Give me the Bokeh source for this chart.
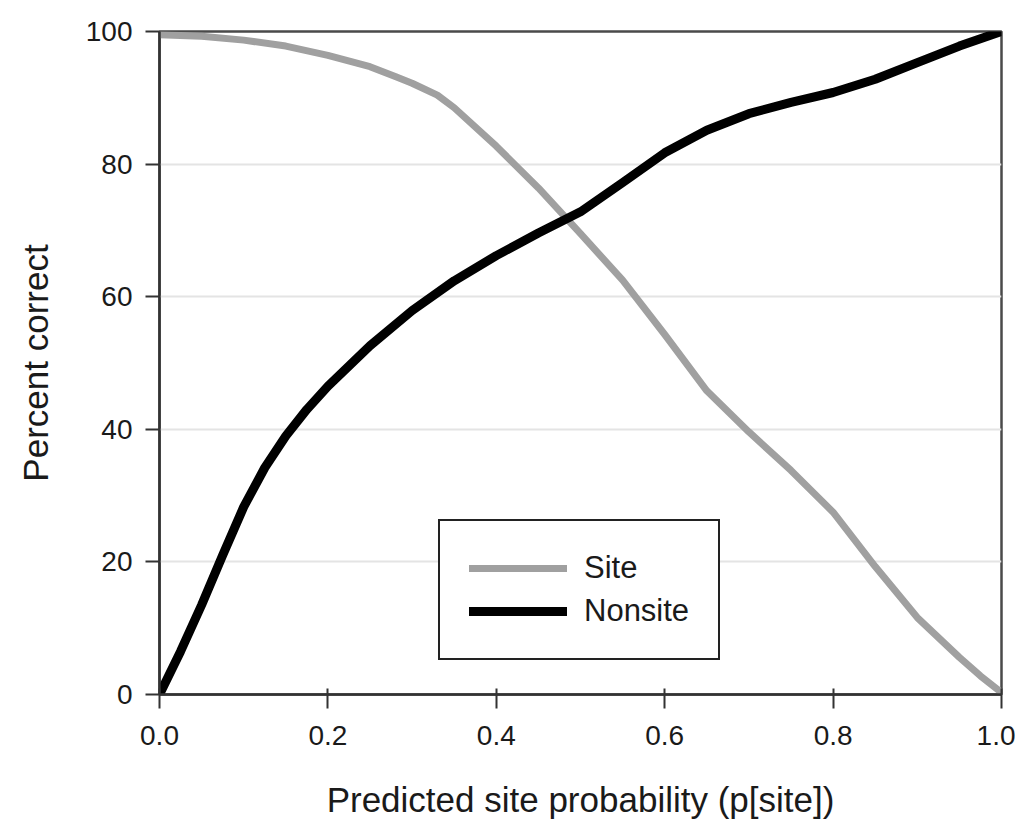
from bokeh.plotting import figure
from bokeh.models import Range1d, FixedTicker, PrintfTickFormatter, Legend, LegendItem
from bokeh.embed import file_html
from bokeh.resources import INLINE

# Data
prob = [0.0, 0.05, 0.1, 0.15, 0.2, 0.25, 0.28, 0.3, 0.33, 0.35, 0.4, 0.45, 0.5,
        0.55, 0.6, 0.65, 0.7, 0.75, 0.8, 0.85, 0.9, 0.95, 0.975, 1.0]
site = [99.5, 99.3, 98.7, 97.8, 96.4, 94.7, 93.2, 92.2, 90.4, 88.5, 82.7, 76.4, 69.5,
        62.5, 54.3, 45.8, 39.6, 33.8, 27.5, 19.3, 11.6, 5.6, 2.8, 0.3]
nonsite_x = [0.0, 0.025, 0.05, 0.075, 0.1, 0.125, 0.15, 0.175, 0.2, 0.25, 0.3, 0.35,
             0.4, 0.45, 0.5, 0.55, 0.6, 0.65, 0.7, 0.75, 0.8, 0.85, 0.9, 0.95, 1.0]
nonsite = [0.0, 6.5, 13.5, 21.0, 28.3, 34.2, 39.0, 43.0, 46.5, 52.6, 57.9, 62.4,
           66.2, 69.6, 72.8, 77.2, 81.7, 85.1, 87.6, 89.3, 90.8, 92.8, 95.3, 97.8, 100.0]
x_ticks = [0.0, 0.2, 0.4, 0.6, 0.8, 1.0]
y_ticks = [0, 20, 40, 60, 80, 100]
series_names = ["Site", "Nonsite"]

FONT = "Liberation Sans"

p = figure(width=1015, height=826, output_backend="svg", toolbar_location=None,
           x_range=Range1d(0, 1), y_range=Range1d(0, 100),
           min_border_left=159, min_border_right=14, min_border_top=31,
           min_border_bottom=132)
p.background_fill_color = "white"
p.border_fill_color = "white"
p.outline_line_color = "#4a4a4a"
p.outline_line_width = 2.5

# grid
p.xgrid.visible = False
p.ygrid.grid_line_color = "#e4e4e4"
p.ygrid.grid_line_width = 2

# axes
for ax in (p.xaxis[0], p.yaxis[0]):
    ax.axis_line_color = "#333333"
    ax.axis_line_width = 2.5
    ax.major_tick_line_color = "#333333"
    ax.major_tick_line_width = 2
    ax.minor_tick_line_color = None
    ax.major_label_text_font = FONT
    ax.major_label_text_font_size = "28px"
    ax.major_label_text_color = "#1a1a1a"
    ax.axis_label_text_font = FONT
    ax.axis_label_text_font_size = "35px"
    ax.axis_label_text_font_style = "normal"
    ax.axis_label_text_color = "#1a1a1a"

p.xaxis.ticker = FixedTicker(ticks=x_ticks)
p.xaxis.formatter = PrintfTickFormatter(format="%.1f")
p.xaxis.major_tick_out = 14
p.xaxis.major_tick_in = 6
p.xaxis.major_label_standoff = 17
p.xaxis.axis_label = "Predicted site probability (p[site])"
p.xaxis.axis_label_standoff = 32

p.yaxis.ticker = FixedTicker(ticks=y_ticks)
p.yaxis.major_tick_out = 14
p.yaxis.major_tick_in = 0
p.yaxis.major_label_standoff = 13
p.yaxis.axis_label = "Percent correct"
p.yaxis.axis_label_standoff = 28

r_site = p.line(prob, site, line_color="#a0a0a0", line_width=7, line_join="round", line_cap="round")
r_non = p.line(nonsite_x, nonsite, line_color="black", line_width=9, line_join="round", line_cap="round")

legend = Legend(items=[LegendItem(label=series_names[0], renderers=[r_site]),
                       LegendItem(label=series_names[1], renderers=[r_non])],
                location=(279, 34))
legend.border_line_color = "#222222"
legend.border_line_width = 2.5
legend.border_line_alpha = 1.0
legend.background_fill_color = "white"
legend.background_fill_alpha = 1.0
legend.label_text_font = FONT
legend.label_text_font_size = "31px"
legend.label_text_color = "#1a1a1a"
legend.glyph_width = 98
legend.glyph_height = 30
legend.label_height = 30
legend.label_standoff = 17
legend.spacing = 7
legend.padding = 29
legend.margin = 0
p.add_layout(legend, "center")

open("out.html", "w").write(file_html(p, INLINE))
